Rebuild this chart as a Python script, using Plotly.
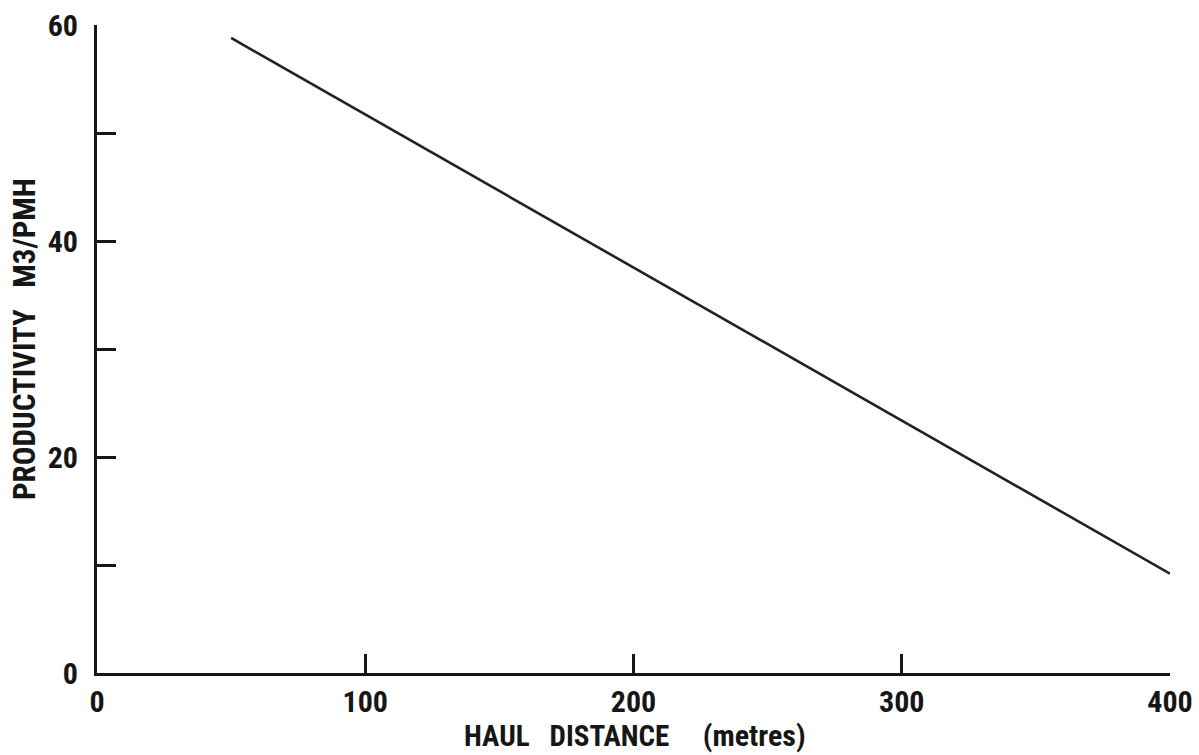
import plotly.graph_objects as go

# Data
haul_distance = [50, 400]
productivity = [58.8, 9.2]

x_tickvals = [0, 100, 200, 300, 400]
x_ticktext = ["0", "100", "200", "300", "400"]
y_tickvals = [0, 10, 20, 30, 40, 50, 60]
y_ticktext = ["0", "", "20", "", "40", "", "60"]

FONT = "Roboto Condensed, Liberation Sans Narrow, Roboto, sans-serif"
INK = "#161616"

L, R, T, B = 97, 29, 25, 82
PW, PH = 1199 - L - R, 755 - T - B

fig = go.Figure()
fig.add_trace(go.Scatter(
    x=haul_distance, y=productivity, mode="lines",
    line=dict(color="#222222", width=2.6), showlegend=False, hoverinfo="skip"))

fig.update_layout(
    width=1199, height=755,
    paper_bgcolor="white", plot_bgcolor="white",
    margin=dict(l=L, r=R, t=T, b=B, autoexpand=False),
    font=dict(family=FONT, color=INK, size=30, weight="bold"),
    showlegend=False,
)
fig.update_xaxes(
    range=[0, 400], tickvals=x_tickvals, ticktext=x_ticktext,
    ticks="inside", ticklen=19, tickwidth=2.5, tickcolor=INK,
    showline=True, linewidth=3, linecolor=INK, showgrid=False, zeroline=False,
    tickfont=dict(family=FONT, size=30, color=INK, weight="bold"),
    ticklabelstandoff=0, automargin=False,
)
fig.update_yaxes(
    range=[0, 60], tickvals=y_tickvals, ticktext=y_ticktext,
    ticks="inside", ticklen=19, tickwidth=2.5, tickcolor=INK,
    showline=True, linewidth=3, linecolor=INK, showgrid=False, zeroline=False,
    tickfont=dict(family=FONT, size=30, color=INK, weight="bold"),
    ticklabelstandoff=10, automargin=False,
)
fig.add_annotation(
    text="HAUL   DISTANCE     <span style='font-size:30px'>(metres)</span>",
    xref="paper", yref="paper", x=(635 - L) / PW, y=-(735 - (755 - B)) / PH,
    xanchor="center", yanchor="middle", showarrow=False,
    font=dict(family=FONT, size=29, color=INK, weight="bold"))
fig.add_annotation(
    text="PRODUCTIVITY   M3/PMH",
    xref="paper", yref="paper", x=-(L - 24) / PW, y=((755 - B) - 339) / PH,
    xanchor="center", yanchor="middle", textangle=-90, showarrow=False,
    font=dict(family=FONT, size=31, color=INK, weight="bold"))

fig.write_html("out.html", config={"displayModeBar": False},
               post_script="document.body.style.margin='0';")
